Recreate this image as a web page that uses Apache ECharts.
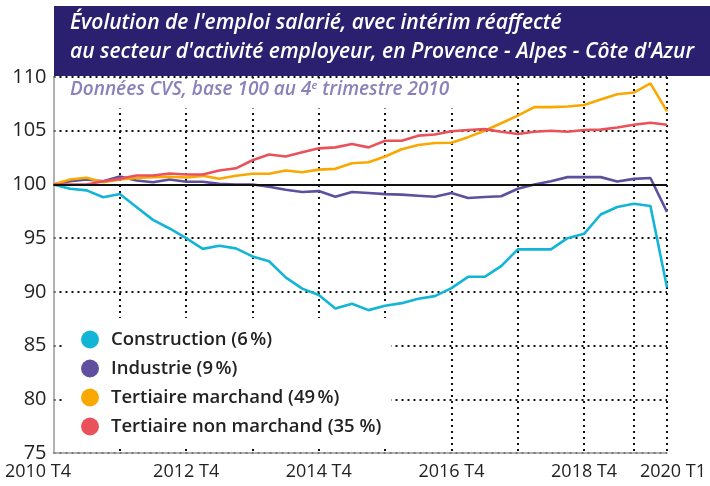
<!DOCTYPE html>
<html>
<head>
<meta charset="utf-8">
<script src="https://cdn.jsdelivr.net/npm/echarts@6/dist/echarts.min.js"></script>
<style>
  html, body { margin: 0; padding: 0; background: #fff; }
  #chart { width: 710px; height: 486px; }
</style>
</head>
<body>
<div id="chart"></div>
<script>
// trimestres 2010 T4 -> 2020 T1
var quarters = [
  '2010 T4',
  '2011 T1', '2011 T2', '2011 T3', '2011 T4',
  '2012 T1', '2012 T2', '2012 T3', '2012 T4',
  '2013 T1', '2013 T2', '2013 T3', '2013 T4',
  '2014 T1', '2014 T2', '2014 T3', '2014 T4',
  '2015 T1', '2015 T2', '2015 T3', '2015 T4',
  '2016 T1', '2016 T2', '2016 T3', '2016 T4',
  '2017 T1', '2017 T2', '2017 T3', '2017 T4',
  '2018 T1', '2018 T2', '2018 T3', '2018 T4',
  '2019 T1', '2019 T2', '2019 T3', '2019 T4',
  '2020 T1'
]
var shownLabels = ['2010 T4', '2012 T4', '2014 T4', '2016 T4', '2018 T4', '2020 T1']
var gridQuarters = ['2011 T4', '2012 T4', '2013 T4', '2014 T4', '2015 T4', '2016 T4', '2017 T4', '2018 T4', '2019 T3', '2020 T1']
var yTicks = [75, 80, 85, 90, 95, 100, 105, 110]

var construction = [100, 99.6, 99.45, 98.8, 99.1, 97.9, 96.7, 95.9, 95.0, 94.0, 94.3, 94.05, 93.3,
  92.85, 91.35, 90.3, 89.7, 88.45, 88.9, 88.3, 88.7, 88.95, 89.35, 89.6, 90.35, 91.4, 91.4,
  92.4, 93.95, 93.95, 93.95, 95.0, 95.4, 97.2, 97.9, 98.2, 98.0, 90.4]
var industrie = [100, 100.3, 100.46, 100.3, 100.74, 100.37, 100.2, 100.46, 100.25, 100.25, 100.05, 100.0, 100.0,
  99.78, 99.5, 99.3, 99.38, 98.85, 99.3, 99.2, 99.1, 99.05, 98.95, 98.85, 99.2, 98.73, 98.83,
  98.9, 99.6, 100.0, 100.3, 100.68, 100.68, 100.68, 100.28, 100.52, 100.6, 97.44]
var tertMarchand = [100, 100.46, 100.62, 100.2, 100.46, 100.6, 100.68, 100.72, 100.65, 100.8, 100.52, 100.8, 101.0,
  101.0, 101.3, 101.14, 101.38, 101.45, 101.97, 102.06, 102.6, 103.27, 103.67, 103.86, 103.88, 104.4, 105.0,
  105.7, 106.4, 107.2, 107.2, 107.25, 107.4, 107.9, 108.4, 108.55, 109.4, 106.8]
var tertNonMarchand = [100, 100, 100, 100.3, 100.52, 100.83, 100.83, 101.02, 100.92, 100.93, 101.3, 101.5, 102.25,
  102.78, 102.6, 103.0, 103.36, 103.45, 103.77, 103.45, 104.07, 104.07, 104.54, 104.65, 104.95, 105.06, 105.15,
  104.9, 104.7, 104.9, 105.0, 104.9, 105.06, 105.1, 105.3, 105.55, 105.74, 105.55]

var seriesNames = ['Construction (6\u202f%)', 'Industrie (9\u202f%)', 'Tertiaire marchand (49\u202f%)', 'Tertiaire non marchand (35 %)']
var seriesColors = ['#13b5d6', '#5e4f9f', '#f8a800', '#e9525a']
var seriesData = [construction, industrie, tertMarchand, tertNonMarchand]

var chart = echarts.init(document.getElementById('chart'))

var series = []
for (var i = 0; i < seriesData.length; i++) {
  var s = {
    name: seriesNames[i],
    type: 'line',
    data: seriesData[i],
    symbol: 'none',
    smooth: false,
    lineStyle: { color: seriesColors[i], width: 2.6 },
    itemStyle: { color: seriesColors[i] },
    z: 3
  }
  if (i === 0) {
    // ligne de base 100
    s.markLine = {
      silent: true,
      symbol: 'none',
      label: { show: false },
      lineStyle: { color: '#111', width: 2, type: 'solid' },
      data: [{ yAxis: 100 }]
    }
  }
  series.push(s)
}

var option = {
  animation: false,
  grid: { left: 53.5, top: 77, right: 43, bottom: 33 },
  legend: {
    orient: 'vertical',
    left: 62,
    top: 318,
    icon: 'circle',
    itemWidth: 32,
    itemHeight: 18,
    itemGap: 10,
    selectedMode: false,
    backgroundColor: '#fff',
    padding: [12, 10, 10, 19],
    textStyle: { fontFamily: 'Open Sans', fontSize: 18.5, fontWeight: 600, color: '#222' },
    data: seriesNames
  },
  xAxis: {
    type: 'category',
    boundaryGap: false,
    data: quarters,
    axisLine: { lineStyle: { color: '#999', width: 1.5 } },
    axisTick: { show: false },
    axisLabel: {
      margin: 10,
      color: '#222',
      fontFamily: 'Open Sans',
      fontSize: 18,
      interval: function (idx, val) { return shownLabels.indexOf(val) >= 0 },
      formatter: function (val) {
        if (val === quarters[0]) return '{first|' + val + '}'
        if (val === quarters[quarters.length - 1]) return '{last|' + val + '}'
        return val
      },
      rich: {
        first: { fontFamily: 'Open Sans', fontSize: 18, color: '#222', padding: [0, 31, 0, 0] },
        last: { fontFamily: 'Open Sans', fontSize: 18, color: '#222', padding: [0, 0, 0, 12] }
      }
    },
    splitLine: {
      show: true,
      interval: function (idx, val) { return gridQuarters.indexOf(val) >= 0 },
      lineStyle: { color: '#111', width: 2, type: [2, 4] }
    }
  },
  yAxis: {
    type: 'value',
    min: yTicks[0],
    max: yTicks[yTicks.length - 1],
    interval: 5,
    axisLine: { show: true, lineStyle: { color: '#999', width: 1.5 } },
    axisTick: { show: false },
    axisLabel: { margin: 7, color: '#222', fontFamily: 'Open Sans', fontSize: 20 },
    splitLine: { lineStyle: { color: '#111', width: 2, type: [2, 4] } }
  },
  graphic: [
    {
      type: 'rect',
      z: 100,
      shape: { x: 54, y: 6, width: 656, height: 70 },
      style: { fill: '#2b2070' }
    },
    {
      type: 'text',
      z: 101,
      x: 70,
      y: 9,
      style: {
        text: "Évolution de l'emploi salarié, avec intérim réaffecté\nau secteur d'activité employeur, en Provence - Alpes - Côte d'Azur",
        fill: '#fff',
        font: 'italic 600 21px "Open Sans"',
        lineHeight: 29
      }
    },
    {
      type: 'rect',
      z: 100,
      shape: { x: 55, y: 78.5, width: 450, height: 30 },
      style: { fill: '#fff' }
    },
    {
      type: 'text',
      z: 101,
      x: 70,
      y: 80,
      style: {
        text: '{a|Données CVS, base 100 au 4}{b|e}{a| trimestre 2010}',
        rich: {
          a: { fill: '#8a80bb', font: 'italic 600 19px "Open Sans"' },
          b: { fill: '#8a80bb', font: 'italic 600 11px "Open Sans"', padding: [0, 0, 9, 0] }
        }
      }
    }
  ],
  series: series
}

chart.setOption(option)
window.addEventListener('resize', function () {
  if (!chart.isDisposed()) {
    chart.resize()
  }
})
</script>
</body>
</html>
